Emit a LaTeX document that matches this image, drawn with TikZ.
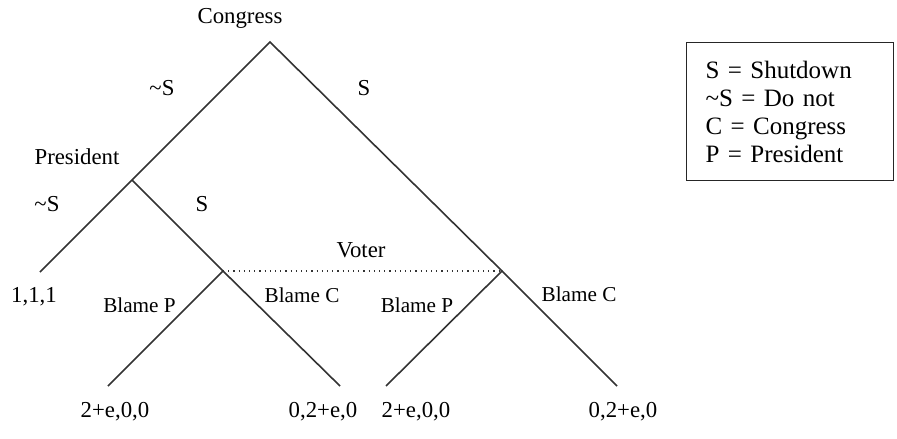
\documentclass[tikz,border=0pt]{standalone}
\usepackage{fontspec}
\setmainfont{Liberation Serif}
\begin{document}
\begin{tikzpicture}[x=0.5pt,y=-0.5pt,
  edge/.style={line width=0.8pt, draw=black!80},
  vdots/.style={line width=0.6pt, dotted, draw=black!80},
  lbl/.style={inner sep=0pt, font=\fontsize{11.4}{14}\selectfont},
  blbl/.style={inner sep=0pt, font=\fontsize{10.6}{14}\selectfont},
  legendbox/.style={draw=black!85, line width=0.7pt, anchor=north west, inner xsep=9.5pt, inner ysep=0pt,
     text width=84.5pt, minimum height=69pt, align=left, font=\fontsize{12.5}{14}\selectfont}]
\useasboundingbox (0,0) rectangle (897,438);
% tree points
\coordinate (C) at (270,42);
\coordinate (P) at (132,180);
\coordinate (L1) at (40,272);
\coordinate (V1) at (223,271);
\coordinate (V2) at (502,271);
\coordinate (B1) at (108,386);
\coordinate (B2) at (340,386);
\coordinate (B3) at (386,386);
\coordinate (B4) at (617,386);
% edges
\draw[edge] (L1) -- (P) -- (C) -- (V2);
\draw[edge] (P) -- (V1);
\draw[edge] (B1) -- (V1) -- (B2);
\draw[edge] (B3) -- (V2) -- (B4);
\draw[vdots] (V1) -- (V2);
% labels
\node[lbl] (congress) at (240,18) {Congress};
\node[lbl] (ns1) at (162,88) {\textasciitilde S};
\node[lbl] (s1) at (364,88) {S};
\node[lbl] (pres) at (77,157) {President};
\node[lbl] (ns2) at (47,204) {\textasciitilde S};
\node[lbl] (s2) at (202,204) {S};
\node[lbl] (voter) at (361,250) {Voter};
\node[lbl] (p111) at (34,297) {1,1,1};
\node[blbl] (bp1) at (139.5,305) {Blame P};
\node[blbl] (bc1) at (302,295) {Blame C};
\node[blbl] (bp2) at (417,305) {Blame P};
\node[blbl] (bc2) at (579,294) {Blame C};
\node[lbl] (pay1) at (115,412) {2+e,0,0};
\node[lbl] (pay2) at (323,412) {0,2+e,0};
\node[lbl] (pay3) at (416,412) {2+e,0,0};
\node[lbl] (pay4) at (623,412) {0,2+e,0};
% legend
\node[legendbox] (legend) at (686,42) {S = Shutdown\\\textasciitilde S = Do not\\C = Congress\\P = President};
\end{tikzpicture}
\end{document}
